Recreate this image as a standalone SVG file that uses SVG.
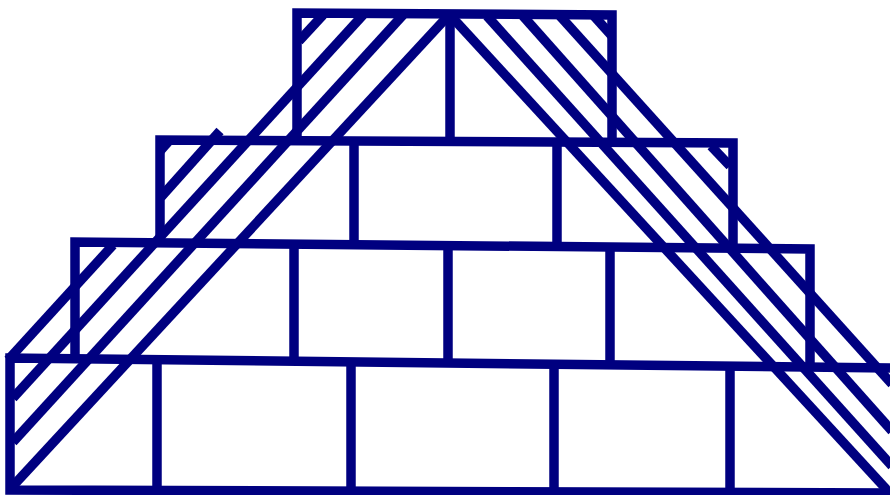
<svg xmlns="http://www.w3.org/2000/svg" width="890" height="495" viewBox="0 0 890 495">
<style>
.s{stroke:#000080;stroke-width:9.5;fill:none;stroke-linecap:butt;stroke-linejoin:miter}
</style>
<rect width="890" height="495" fill="#ffffff"/>
<g id="tier1" class="s">
<polyline points="297,140 297,13 612,15 612,141"/>
<line x1="450" y1="15" x2="450" y2="140"/>
</g>
<g id="tier2" class="s">
<polyline points="160,244 160,140 733,143 733,249"/>
<line x1="354" y1="140" x2="354" y2="244"/>
<line x1="557" y1="142" x2="557" y2="246"/>
</g>
<g id="tier3" class="s">
<polyline points="75,360 75,242 810,249 810,367"/>
<line x1="294" y1="244" x2="294" y2="360"/>
<line x1="448" y1="245" x2="448" y2="362"/>
<line x1="610" y1="247" x2="610" y2="364"/>
</g>
<g id="tier4" class="s">
<polyline points="890,368 10,358 10,490 890,493"/>
<line x1="157" y1="360" x2="157" y2="490"/>
<line x1="351" y1="361" x2="351" y2="491"/>
<line x1="554" y1="364" x2="554" y2="491"/>
<line x1="730" y1="366" x2="730" y2="492"/>
</g>
<g id="hatching" class="s">
<line x1="448" y1="16" x2="12" y2="487"/>
<line x1="363" y1="15" x2="13" y2="398"/>
<line x1="403" y1="15" x2="13" y2="442"/>
<line x1="323" y1="15" x2="299" y2="41"/>
<line x1="220" y1="131" x2="161" y2="197"/>
<line x1="113" y1="245" x2="8" y2="360"/>
<line x1="168" y1="142" x2="160" y2="151"/>
<line x1="450" y1="15" x2="888" y2="491"/>
<line x1="487" y1="16" x2="892" y2="466"/>
<line x1="523" y1="16" x2="892" y2="431"/>
<line x1="560" y1="16" x2="892" y2="384"/>
<line x1="594" y1="16" x2="612" y2="36"/>
<line x1="711" y1="146" x2="730" y2="166"/>
</g>
</svg>
